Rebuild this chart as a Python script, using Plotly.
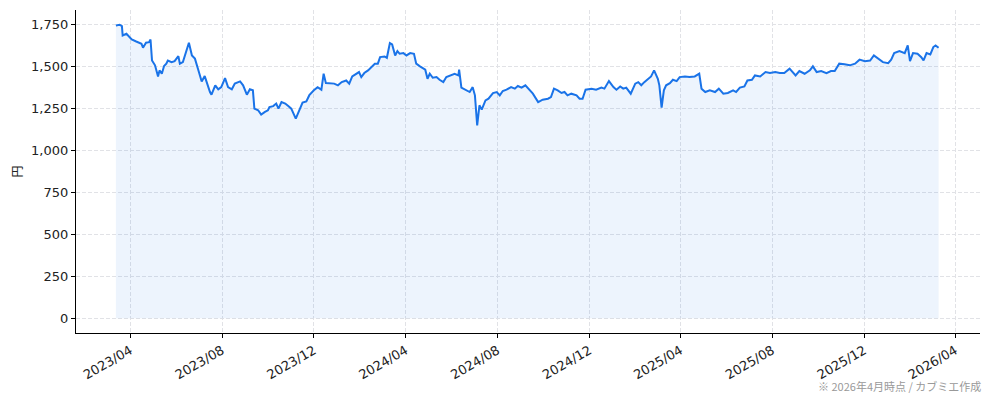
import plotly.graph_objects as go

# ---- DATA ----
dates = [
    "2023-03-13", "2023-03-18", "2023-03-21", "2023-03-22", "2023-03-27", "2023-04-03",
    "2023-04-09", "2023-04-16", "2023-04-18", "2023-04-22", "2023-04-26", "2023-04-28",
    "2023-04-30", "2023-05-04", "2023-05-08", "2023-05-10", "2023-05-13", "2023-05-16",
    "2023-05-19", "2023-05-21", "2023-05-26", "2023-05-30", "2023-06-04", "2023-06-06",
    "2023-06-10", "2023-06-18", "2023-06-22", "2023-06-26", "2023-06-30", "2023-07-05",
    "2023-07-09", "2023-07-12", "2023-07-16", "2023-07-18", "2023-07-23", "2023-07-27",
    "2023-07-31", "2023-08-05", "2023-08-09", "2023-08-14", "2023-08-18", "2023-08-25",
    "2023-08-29", "2023-09-03", "2023-09-07", "2023-09-11", "2023-09-13", "2023-09-18",
    "2023-09-22", "2023-09-27", "2023-10-01", "2023-10-03", "2023-10-08", "2023-10-12",
    "2023-10-15", "2023-10-19", "2023-10-24", "2023-10-28", "2023-11-01", "2023-11-07",
    "2023-11-12", "2023-11-16", "2023-11-21", "2023-11-25", "2023-12-01", "2023-12-06",
    "2023-12-11", "2023-12-14", "2023-12-17", "2023-12-22", "2023-12-28", "2024-01-02",
    "2024-01-07", "2024-01-13", "2024-01-17", "2024-01-21", "2024-01-26", "2024-01-30",
    "2024-02-02", "2024-02-06", "2024-02-11", "2024-02-15", "2024-02-20", "2024-02-24",
    "2024-02-27", "2024-03-04", "2024-03-07", "2024-03-11", "2024-03-14", "2024-03-18",
    "2024-03-21", "2024-03-24", "2024-03-29", "2024-04-02", "2024-04-07", "2024-04-12",
    "2024-04-15", "2024-04-20", "2024-04-27", "2024-04-30", "2024-05-03", "2024-05-07",
    "2024-05-12", "2024-05-16", "2024-05-21", "2024-05-25", "2024-05-30", "2024-06-05",
    "2024-06-10", "2024-06-11", "2024-06-14", "2024-06-21", "2024-06-25", "2024-06-29",
    "2024-07-02", "2024-07-05", "2024-07-08", "2024-07-11", "2024-07-16", "2024-07-20",
    "2024-07-26", "2024-07-31", "2024-08-04", "2024-08-08", "2024-08-13", "2024-08-19",
    "2024-08-24", "2024-08-28", "2024-09-02", "2024-09-07", "2024-09-13", "2024-09-17",
    "2024-09-24", "2024-09-30", "2024-10-07", "2024-10-11", "2024-10-15", "2024-10-20",
    "2024-10-25", "2024-10-29", "2024-11-02", "2024-11-07", "2024-11-14", "2024-11-18",
    "2024-11-22", "2024-11-26", "2024-12-04", "2024-12-10", "2024-12-17", "2024-12-21",
    "2024-12-27", "2025-01-02", "2025-01-06", "2025-01-11", "2025-01-15", "2025-01-19",
    "2025-01-25", "2025-01-31", "2025-02-04", "2025-02-08", "2025-02-12", "2025-02-17",
    "2025-02-21", "2025-02-25", "2025-03-02", "2025-03-04", "2025-03-07", "2025-03-10",
    "2025-03-13", "2025-03-18", "2025-03-22", "2025-03-27", "2025-03-31", "2025-04-07",
    "2025-04-13", "2025-04-20", "2025-04-26", "2025-04-29", "2025-05-04", "2025-05-10",
    "2025-05-17", "2025-05-22", "2025-05-28", "2025-06-03", "2025-06-10", "2025-06-14",
    "2025-06-19", "2025-06-25", "2025-06-29", "2025-07-05", "2025-07-09", "2025-07-16",
    "2025-07-23", "2025-07-29", "2025-08-05", "2025-08-11", "2025-08-17", "2025-08-24",
    "2025-09-01", "2025-09-06", "2025-09-13", "2025-09-20", "2025-09-24", "2025-09-29",
    "2025-10-05", "2025-10-12", "2025-10-18", "2025-10-23", "2025-10-29", "2025-11-05",
    "2025-11-12", "2025-11-19", "2025-11-25", "2025-12-02", "2025-12-09", "2025-12-14",
    "2025-12-19", "2025-12-26", "2026-01-02", "2026-01-06", "2026-01-10", "2026-01-17",
    "2026-01-24", "2026-01-28", "2026-01-31", "2026-02-04", "2026-02-10", "2026-02-15",
    "2026-02-18", "2026-02-22", "2026-02-27", "2026-03-03", "2026-03-06", "2026-03-10",
]

prices = [
    1746, 1750, 1742, 1686, 1696, 1662,
    1650, 1637, 1613, 1643, 1646, 1662,
    1537, 1508, 1442, 1478, 1458, 1504,
    1518, 1537, 1527, 1533, 1563, 1518,
    1527, 1643, 1567, 1548, 1488, 1412,
    1444, 1399, 1349, 1333, 1389, 1365,
    1378, 1432, 1378, 1365, 1399, 1412,
    1389, 1333, 1365, 1359, 1250, 1240,
    1214, 1230, 1240, 1259, 1265, 1280,
    1250, 1289, 1280, 1265, 1250, 1190,
    1240, 1286, 1293, 1330, 1359, 1378,
    1363, 1458, 1402, 1402, 1399, 1389,
    1408, 1418, 1399, 1442, 1458, 1468,
    1438, 1462, 1478, 1497, 1518, 1518,
    1557, 1561, 1553, 1641, 1633, 1567,
    1593, 1577, 1581, 1567, 1581, 1577,
    1518, 1502, 1482, 1428, 1458, 1434,
    1438, 1422, 1408, 1438, 1448, 1458,
    1448, 1482, 1375, 1359, 1349, 1378,
    1329, 1150, 1270, 1244, 1299, 1309,
    1343, 1349, 1329, 1355, 1363, 1378,
    1369, 1385, 1375, 1389, 1359, 1339,
    1289, 1303, 1309, 1319, 1369, 1359,
    1343, 1349, 1329, 1339, 1329, 1309,
    1309, 1363, 1369, 1363, 1375, 1369,
    1414, 1378, 1363, 1382, 1369, 1375,
    1339, 1399, 1408, 1389, 1408, 1428,
    1442, 1478, 1428, 1389, 1256, 1359,
    1389, 1402, 1422, 1414, 1438, 1442,
    1438, 1442, 1458, 1369, 1349, 1359,
    1349, 1369, 1339, 1343, 1359, 1349,
    1375, 1382, 1418, 1422, 1448, 1442,
    1468, 1462, 1468, 1462, 1462, 1488,
    1448, 1474, 1458, 1478, 1502, 1468,
    1474, 1462, 1474, 1474, 1518, 1514,
    1508, 1518, 1542, 1533, 1537, 1567,
    1548, 1527, 1521, 1542, 1581, 1593,
    1581, 1627, 1533, 1581, 1577, 1557,
    1537, 1581, 1573, 1617, 1627, 1613,
]

LINE = "#1a73e8"
TICK_FONT = "DejaVu Sans, Noto Sans CJK JP"
JP_FONT = "Noto Sans CJK JP"
GRID = "#e1e2e6"

fig = go.Figure()

fig.add_trace(go.Scatter(
    x=dates, y=prices,
    mode="lines",
    line=dict(color=LINE, width=2),
    fill="tozeroy",
    fillcolor="rgba(26,115,232,0.08)",
    hoverinfo="x+y",
    showlegend=False,
))

# page body has an 8px margin, so the figure is sized to fit inside it
fig.update_layout(
    width=978, height=385,
    margin=dict(l=68, r=6, t=2, b=60),
    paper_bgcolor="white",
    plot_bgcolor="white",
    font=dict(family=TICK_FONT, size=13, color="#222"),
    xaxis=dict(
        type="date",
        range=["2023-01-19", "2026-05-04"],
        tick0="2023-04-01", dtick="M4",
        tickformat="%Y/%m",
        tickangle=-30,
        ticks="outside", ticklen=4, tickcolor="black",
        showline=True, linecolor="black", linewidth=1.2,
        showgrid=True, gridcolor=GRID, griddash="4px,2px", gridwidth=1,
        zeroline=False,
        automargin=False,
    ),
    yaxis=dict(
        range=[-88, 1838],
        tick0=0, dtick=250,
        tickformat=",",
        ticks="outside", ticklen=4, tickcolor="black",
        showline=True, linecolor="black", linewidth=1.2,
        showgrid=True, gridcolor=GRID, griddash="4px,2px", gridwidth=1,
        zeroline=False,
        automargin=False,
        title=dict(text="円", standoff=8, font=dict(family=JP_FONT, size=12)),
    ),
    annotations=[dict(
        text="※ 2026年4月時点 / カブミエ作成",
        xref="paper", yref="paper",
        x=1.0033, y=-0.164,
        xanchor="right", yanchor="middle",
        showarrow=False,
        font=dict(family=JP_FONT, size=11, color="#999"),
    )],
)

fig.write_html("out.html")
